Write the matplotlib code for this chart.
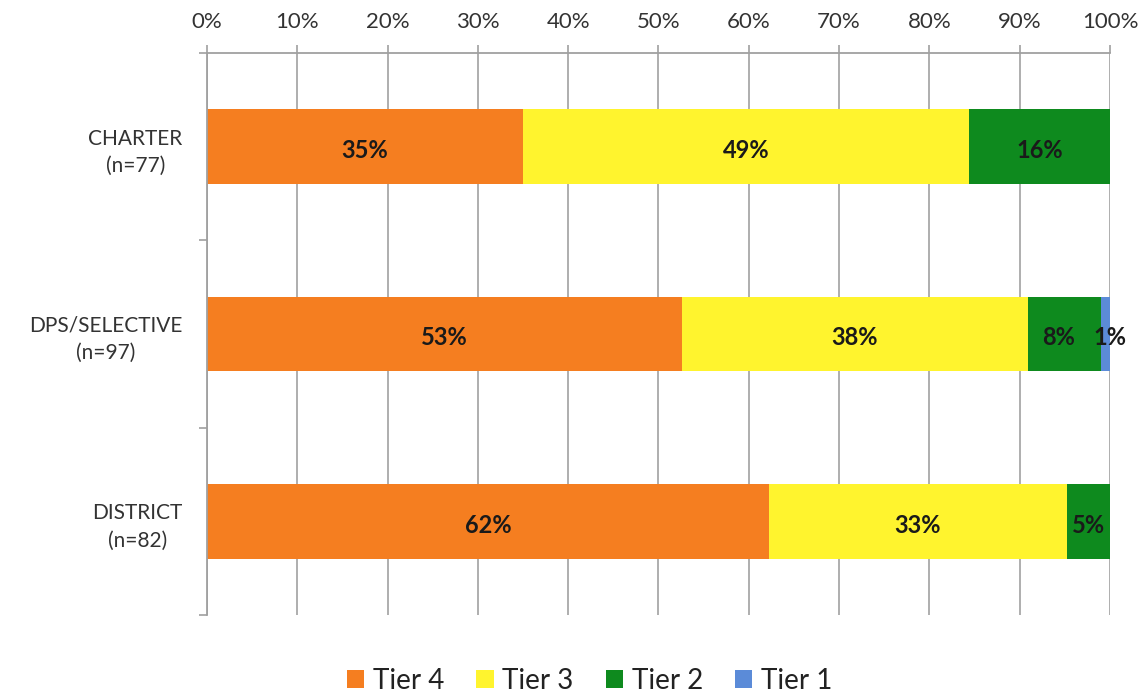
import matplotlib.pyplot as plt
import numpy as np

plt.rcParams['font.family'] = ['Lato', 'DejaVu Sans']

categories = ['CHARTER\n(n=77)', 'DPS/SELECTIVE\n(n=97)', 'DISTRICT\n(n=82)']
tiers = ['Tier 4', 'Tier 3', 'Tier 2', 'Tier 1']
tier4 = [35.0, 52.6, 62.2]
tier3 = [49.4, 38.3, 33.0]
tier2 = [15.6, 8.1, 4.8]
tier1 = [0.0, 1.0, 0.0]
labels = [['35%', '53%', '62%'],
          ['49%', '38%', '33%'],
          ['16%', '8%', '5%'],
          ['', '1%', '']]
colors = ['#F57E20', '#FFF42E', '#0E8A1E', '#5B8BD8']

fig = plt.figure(figsize=(11.45, 6.98), dpi=100)
ax = fig.add_axes([0.1808, 0.119, 0.9694 - 0.1808, 0.924 - 0.119])

y = np.arange(len(categories))
left = np.zeros(len(categories))
for vals, name, col, labs in zip([tier4, tier3, tier2, tier1], tiers, colors, labels):
    vals = np.array(vals)
    ax.barh(y, vals, left=left, height=0.4, color=col, label=name, zorder=2)
    for i, (v, l) in enumerate(zip(vals, labs)):
        if l:
            xc = left[i] + v / 2
            if name == 'Tier 2' and i == 1:
                xc -= 0.6
            if name == 'Tier 1':
                xc += 0.5
            ax.text(xc, y[i] + 0.02, l, ha='center', va='center', fontsize=17,
                    fontweight='bold', color='#1a1a1a', zorder=3)
    left += vals

ax.set_xlim(0, 100)
ax.set_ylim(2.5, -0.5)
ax.xaxis.tick_top()
ax.set_xticks(np.arange(0, 101, 10))
ax.set_xticklabels([f'{t}%' for t in range(0, 101, 10)])
ax.set_yticks(y)
ax.set_yticklabels(categories, multialignment='center', linespacing=1.45)
ax.set_yticks([-0.5, 0.5, 1.5, 2.5], minor=True)
ax.tick_params(axis='y', which='major', length=0, pad=17.5, labelsize=15, labelcolor='#333333')
ax.tick_params(axis='y', which='minor', length=6, color='#a0a0a0', width=1.2)
ax.tick_params(axis='x', length=6, color='#a0a0a0', width=1.2, labelsize=16,
               labelcolor='#333333', pad=9)
ax.grid(axis='x', color='#a8a8a8', linewidth=1.3, zorder=0)
ax.set_axisbelow(True)
for s in ['right', 'bottom']:
    ax.spines[s].set_visible(False)
for s in ['top', 'left']:
    ax.spines[s].set_color('#a0a0a0')
    ax.spines[s].set_linewidth(1.3)

fig.legend(loc='center', ncol=4, frameon=False, fontsize=20,
           bbox_to_anchor=(0.515, 0.024), handlelength=0.62, handleheight=0.62,
           handletextpad=0.32, columnspacing=1.15, labelcolor='#222222',
           borderpad=0)

plt.savefig('out.png')
